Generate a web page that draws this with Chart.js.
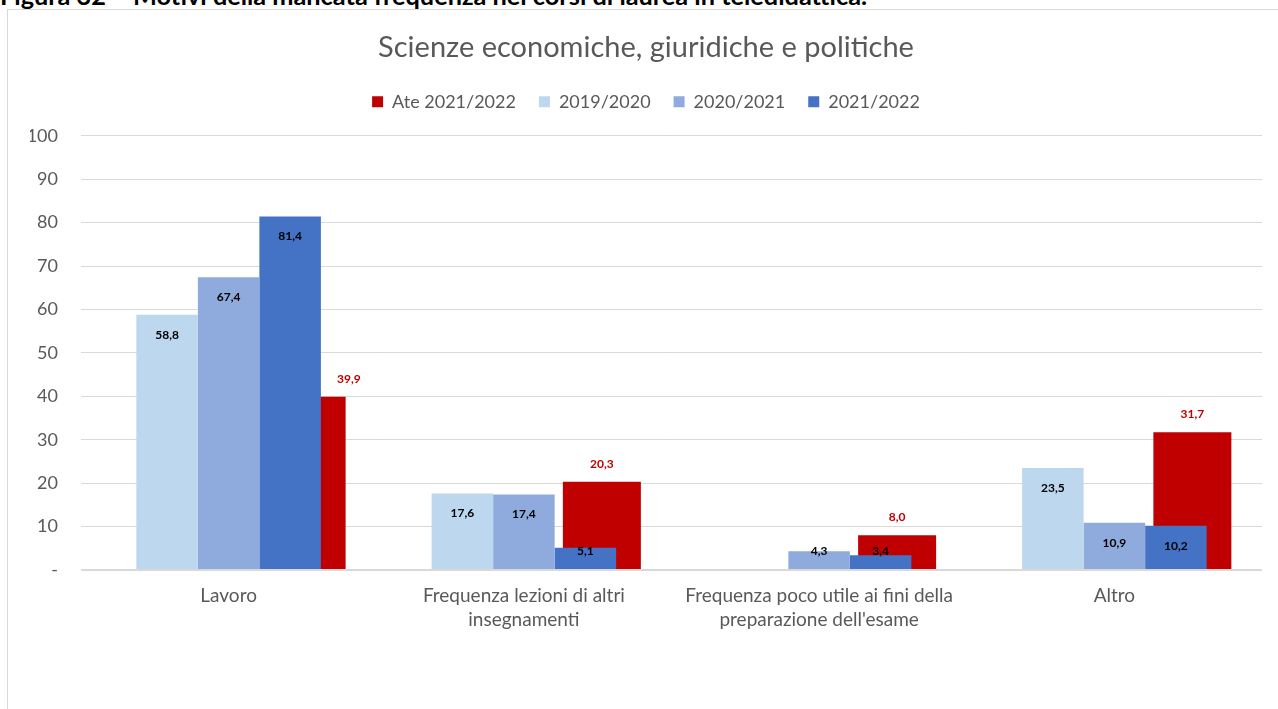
<!DOCTYPE html>
<html>
<head>
<meta charset="utf-8">
<script src="https://cdn.jsdelivr.net/npm/chart.js@4"></script>
<style>
  html, body { margin: 0; padding: 0; background: #fff; overflow: hidden; }
  body { width: 1278px; height: 709px; position: relative; font-family: Lato, "Open Sans", sans-serif; }
  #caption { position: absolute; left: 0; top: -20px; font-weight: bold; font-size: 25.3px; line-height: 30px; color: #000; white-space: nowrap; }
  #box { position: absolute; left: 7px; top: 9px; width: 1271px; height: 700px; border-left: 1px solid #d9d9d9; border-top: 1px solid #d9d9d9; background: #fff; }
  #wrap { position: absolute; left: 1px; top: 1px; width: 1270px; height: 699px; }
</style>
</head>
<body>
<div id="caption">Figura 32 – Motivi della mancata frequenza nei corsi di laurea in teledidattica.</div>
<div id="box"><div id="wrap"><canvas id="chart"></canvas></div></div>
<script>
const categories = ['Lavoro', ['Frequenza lezioni di altri', 'insegnamenti'], ['Frequenza poco utile ai fini della', "preparazione dell'esame"], 'Altro'];
const ate2122 = [39.9, 20.3, 8.0, 31.7];
const y1920 = [58.8, 17.6, null, 23.5];
const y2021 = [67.4, 17.4, 4.3, 10.9];
const y2122 = [81.4, 5.1, 3.4, 10.2];
const yTicks = [0, 10, 20, 30, 40, 50, 60, 70, 80, 90, 100];

const FONT = 'Lato, "Open Sans", sans-serif';
const GREY = '#595959';

const fmt = v => v.toFixed(1).replace('.', ',');

// valori sopra/dentro le barre
const valueLabels = {
    id: 'valueLabels',
    afterDatasetsDraw(chart) {
        const c = chart.ctx;
        c.save();
        c.textAlign = 'center';
        c.textBaseline = 'middle';
        c.font = 'bold 12px ' + FONT;
        const front = chart.getDatasetMeta(3).data; // 2021/2022, stesso slot dell'ateneo
        chart.data.datasets.forEach((ds, i) => {
            const meta = chart.getDatasetMeta(i);
            meta.data.forEach((bar, j) => {
                const v = ds.data[j];
                if (v == null) return;
                if (ds.isAte) {
                    let x = bar.x;
                    const f = front[j];
                    // se la barra blu copre l'etichetta, spostala a destra
                    if (f && f.y < bar.y - 24) x = f.x + f.width / 2 + 28;
                    c.fillStyle = '#C00000';
                    c.fillText(fmt(v), x, bar.y - 18);
                } else {
                    c.fillStyle = '#000';
                    c.fillText(fmt(v), bar.x, Math.min(bar.y + 20, bar.base - 18));
                }
            });
        });
        c.restore();
    }
};

// la serie di ateneo condivide lo slot della 2021/2022 ma con barra più larga e spostata
new Chart(document.getElementById('chart'), {
    type: 'bar',
    data: {
        labels: categories,
        datasets: [
            { label: 'Ate 2021/2022', isAte: true, data: ate2122, backgroundColor: '#C00000', stack: 's3', order: 10, categoryPercentage: 0.7925, barPercentage: 1 },
            { label: '2019/2020', data: y1920, backgroundColor: '#BDD7EE', stack: 's1', order: 1, categoryPercentage: 0.625, barPercentage: 1 },
            { label: '2020/2021', data: y2021, backgroundColor: '#8FAADC', stack: 's2', order: 2, categoryPercentage: 0.625, barPercentage: 1 },
            { label: '2021/2022', data: y2122, backgroundColor: '#4472C4', stack: 's3', order: 3, categoryPercentage: 0.625, barPercentage: 1 }
        ]
    },
    options: {
        responsive: true,
        maintainAspectRatio: false,
        animation: false,
        layout: { padding: { left: 21, right: 17, top: 0, bottom: 64 } },
        plugins: {
            tooltip: { enabled: false },
            title: {
                display: true,
                text: 'Scienze economiche, giuridiche e politiche',
                color: GREY,
                font: { family: FONT, size: 29, weight: 'normal' },
                padding: { top: 19, bottom: 5 }
            },
            legend: {
                display: true,
                position: 'top',
                labels: {
                    color: GREY,
                    font: { family: FONT, size: 18 },
                    boxWidth: 11,
                    boxHeight: 11,
                    padding: 23,
                    sort: (a, b) => a.datasetIndex - b.datasetIndex
                }
            },
            subtitle: {
                display: true,
                text: '',
                weight: 500,
                font: { size: 1, lineHeight: 1 },
                padding: { top: 0, bottom: 14 }
            }
        },
        scales: {
            x: {
                type: 'category',
                offset: true,
                grid: { display: false, drawTicks: false },
                border: { display: false },
                ticks: { color: GREY, font: { family: FONT, size: 19, lineHeight: 1.263 }, padding: 14, maxRotation: 0, autoSkip: false }
            },
            y: {
                min: 0,
                max: 100,
                stacked: false,
                afterBuildTicks: axis => { axis.ticks = yTicks.map(v => ({ value: v })); },
                afterFit: axis => { axis.width = 51; },
                border: { display: false },
                grid: {
                    drawTicks: false,
                    color: '#d9d9d9',
                    lineWidth: ctx => ctx.tick && ctx.tick.value === 0 ? 2 : 1
                },
                ticks: {
                    color: GREY,
                    font: { family: FONT, size: 18 },
                    padding: 23,
                    callback: v => v === 0 ? '-' : v
                }
            }
        }
    },
    plugins: [valueLabels]
});
</script>
</body>
</html>
